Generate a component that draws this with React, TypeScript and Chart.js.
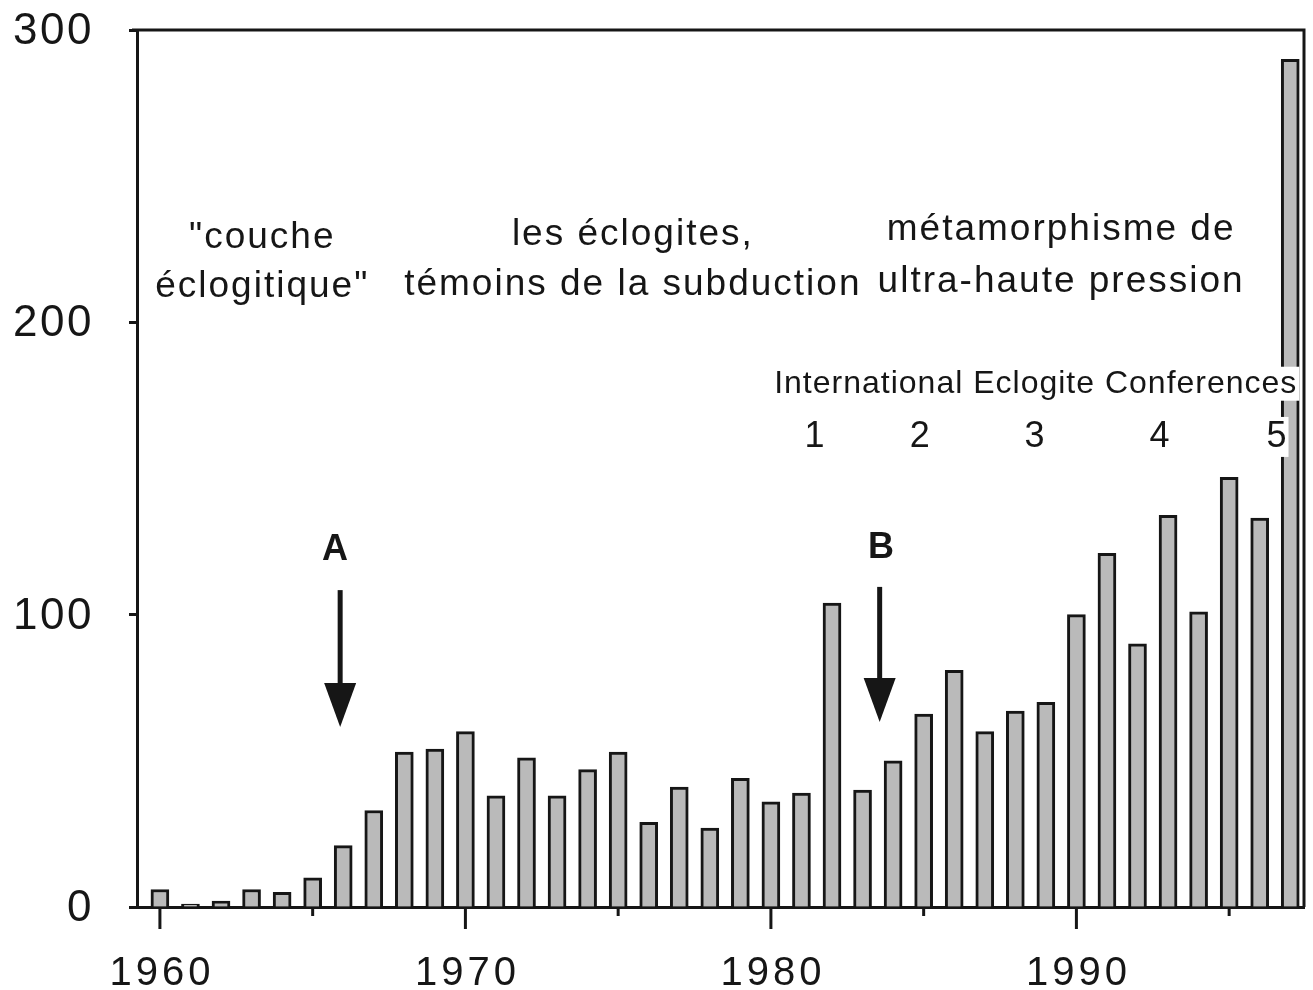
import React, { useEffect, useRef } from 'react';
import { Chart, registerables } from 'chart.js';

Chart.register(...registerables);

// ---- data ----
const years = [
  1960, 1961, 1962, 1963, 1964, 1965, 1966, 1967, 1968, 1969,
  1970, 1971, 1972, 1973, 1974, 1975, 1976, 1977, 1978, 1979,
  1980, 1981, 1982, 1983, 1984, 1985, 1986, 1987, 1988, 1989,
  1990, 1991, 1992, 1993, 1994, 1995, 1996, 1997,
];
const counts = [
  6, 1, 2, 6, 5, 10, 21, 33, 53, 54,
  60, 38, 51, 38, 47, 53, 29, 41, 27, 44,
  36, 39, 104, 40, 50, 66, 81, 60, 67, 70,
  100, 121, 90, 134, 101, 147, 133, 290,
];
const yTickValues = [0, 100, 200, 300];
const xMajorTicks = [1960, 1970, 1980, 1990];
const xMinorTicks = [1965, 1975, 1985, 1995];

// text annotations (x in years, y in data units)
const periodTexts = [
  { lines: ['"couche', 'éclogitique"'], x: 1963.35, y: [229, 212] },
  { lines: ['les éclogites,', 'témoins de la subduction'], x: 1975.48, y: [230, 212.8] },
  { lines: ['métamorphisme de', 'ultra-haute pression'], x: 1989.5, y: [231.5, 214] },
];
const conferenceTitle = { text: 'International Eclogite Conferences', x: 1988.67, y: 179 };
const conferenceNumbers = ['1', '2', '3', '4', '5'];
const conferenceX = [1981.43, 1984.87, 1988.63, 1992.72, 1996.55];
const conferenceY = 160.8;
const arrowLabels = ['A', 'B'];
const arrowX = [1965.9, 1983.56];
const arrowLabelX = [1965.73, 1983.6];
const arrowLabelY = [122, 122.8];
const arrowTop = [108.4, 109.5];
const arrowTip = [61.6, 63.3];

const FONT = '"Liberation Sans", Arial, Helvetica, sans-serif';
const INK = '#161616';

const overlay = {
  id: 'overlay',
  afterDraw(chart: any) {
    const { ctx, chartArea: a, scales } = chart;
    const xs = scales.x;
    const ys = scales.y;
    ctx.save();

    // frame (top and right)
    ctx.strokeStyle = INK;
    ctx.lineWidth = 3;
    ctx.beginPath();
    ctx.moveTo(a.left - 5, a.top);
    ctx.lineTo(a.right, a.top);
    ctx.lineTo(a.right, a.bottom);
    ctx.stroke();

    // x ticks
    ctx.lineWidth = 3;
    for (const v of xMajorTicks) {
      const px = xs.getPixelForValue(v);
      ctx.beginPath();
      ctx.moveTo(px, a.bottom);
      ctx.lineTo(px, a.bottom + 22);
      ctx.stroke();
    }
    for (const v of xMinorTicks) {
      const px = xs.getPixelForValue(v);
      ctx.beginPath();
      ctx.moveTo(px, a.bottom);
      ctx.lineTo(px, a.bottom + 9);
      ctx.stroke();
    }

    // x labels
    ctx.fillStyle = INK;
    ctx.textBaseline = 'middle';
    ctx.textAlign = 'center';
    ctx.font = `40px ${FONT}`;
    (ctx as any).letterSpacing = '4px';
    for (const v of xMajorTicks) {
      const px = xs.getPixelForValue(v);
      ctx.fillText(String(v), px + 2, a.bottom + 67);
    }

    // y labels
    ctx.textAlign = 'right';
    ctx.font = `44px ${FONT}`;
    (ctx as any).letterSpacing = '2.5px';
    for (const v of yTickValues) {
      ctx.fillText(String(v), a.left - 43, ys.getPixelForValue(v) + 2);
    }

    // period texts
    ctx.textAlign = 'center';
    ctx.font = `37px ${FONT}`;
    (ctx as any).letterSpacing = '2px';
    for (const t of periodTexts) {
      t.lines.forEach((line, i) => {
        ctx.fillText(line, xs.getPixelForValue(t.x), ys.getPixelForValue(t.y[i]));
      });
    }

    // conference title with white background
    const drawBoxed = (text: string, cx: number, cy: number, h: number) => {
      const w = ctx.measureText(text).width;
      ctx.fillStyle = '#ffffff';
      ctx.fillRect(cx - w / 2 - 2, cy - h / 2, w + 4, h);
      ctx.fillStyle = INK;
      ctx.fillText(text, cx, cy);
    };
    ctx.font = `32px ${FONT}`;
    (ctx as any).letterSpacing = '1px';
    drawBoxed(
      conferenceTitle.text,
      xs.getPixelForValue(conferenceTitle.x),
      ys.getPixelForValue(conferenceTitle.y),
      34
    );

    ctx.font = `36px ${FONT}`;
    (ctx as any).letterSpacing = '0px';
    conferenceNumbers.forEach((n, i) => {
      drawBoxed(n, xs.getPixelForValue(conferenceX[i]), ys.getPixelForValue(conferenceY), 40);
    });

    // arrows
    ctx.font = `bold 36px ${FONT}`;
    arrowLabels.forEach((lab, i) => {
      ctx.fillStyle = INK;
      ctx.fillText(lab, xs.getPixelForValue(arrowLabelX[i]), ys.getPixelForValue(arrowLabelY[i]));
      const px = xs.getPixelForValue(arrowX[i]);
      const top = ys.getPixelForValue(arrowTop[i]);
      const tip = ys.getPixelForValue(arrowTip[i]);
      ctx.strokeStyle = INK;
      ctx.lineWidth = 5;
      ctx.beginPath();
      ctx.moveTo(px, top);
      ctx.lineTo(px, tip - 30);
      ctx.stroke();
      ctx.beginPath();
      ctx.moveTo(px - 16, tip - 44);
      ctx.lineTo(px + 16, tip - 44);
      ctx.lineTo(px, tip);
      ctx.closePath();
      ctx.fill();
    });

    ctx.restore();
  },
};

export default function App() {
  const ref = useRef<HTMLCanvasElement>(null);

  useEffect(() => {
    if (!ref.current) return;
    const chart = new Chart(ref.current, {
      type: 'bar',
      data: {
        datasets: [
          {
            data: years.map((yr, i) => ({ x: yr, y: counts[i] })),
            backgroundColor: '#bababa',
            borderColor: INK,
            borderWidth: 3,
            borderSkipped: 'bottom',
            barThickness: 18,
          },
        ],
      },
      options: {
        responsive: false,
        animation: false,
        events: [],
        layout: { padding: { top: 30, right: 9, left: 0, bottom: 0 } },
        plugins: {
          legend: { display: false },
          tooltip: { enabled: false },
        },
        scales: {
          x: {
            type: 'linear',
            min: 1959.25,
            max: 1997.45,
            offset: false,
            grid: { display: false },
            border: { display: true, color: INK, width: 3 },
            ticks: { display: false, stepSize: 5 },
            afterFit: (s: any) => {
              s.height = 83;
            },
          },
          y: {
            type: 'linear',
            min: 0,
            max: 300,
            grid: {
              display: true,
              drawOnChartArea: false,
              drawTicks: true,
              tickLength: 8,
              tickWidth: 3,
              color: INK,
            },
            border: { display: true, color: INK, width: 3 },
            ticks: { stepSize: 100, color: 'rgba(0,0,0,0)', font: { size: 20 } },
            afterFit: (s: any) => {
              s.width = 137;
            },
          },
        },
      },
      plugins: [overlay],
    });
    return () => chart.destroy();
  }, []);

  return (
    <div style={{ position: 'fixed', left: 0, top: 0, width: 1313, height: 990, background: '#fff' }}>
      <canvas ref={ref} width={1313} height={990} style={{ display: 'block' }} />
    </div>
  );
}
